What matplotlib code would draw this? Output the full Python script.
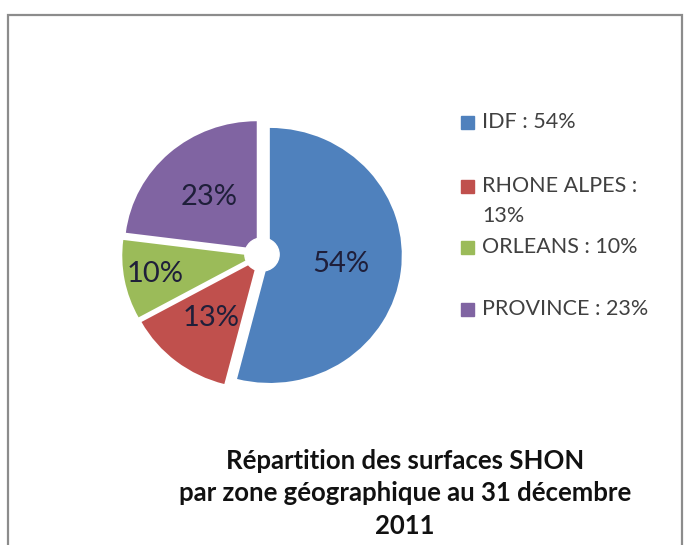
import matplotlib.pyplot as plt
import numpy as np
from matplotlib.patches import Rectangle, Circle

plt.rcParams["font.family"] = ["Lato", "DejaVu Sans"]

zones = ["IDF", "RHONE ALPES", "ORLEANS", "PROVINCE"]
shares = [54, 13, 10, 23]
colors = ["#4F81BD", "#C0504D", "#9BBB59", "#8064A2"]
legend_labels = ["IDF : 54%", "RHONE ALPES :\n13%", "ORLEANS : 10%", "PROVINCE : 23%"]
title = "Répartition des surfaces SHON\npar zone géographique au 31 décembre\n2011"

W, H = 687, 545
fig = plt.figure(figsize=(W / 100, H / 100), dpi=100)

# pie axes, slightly squashed like the original picture
ax = fig.add_axes([0.1317, 0.2289, 0.4993, 0.6083])
explode = [0.06] * len(shares)
wedges, texts, autotexts = ax.pie(
    shares, colors=colors, startangle=90, counterclock=False,
    explode=explode, autopct="%d%%", pctdistance=0.55,
    wedgeprops=dict(linewidth=0), textprops=dict(fontsize=21, color="#1f1f3a"),
)
# Excel puts the labels at slightly different distances
label_dist = [0.6, 0.635, 0.827, 0.605]
for w, t, d in zip(wedges, autotexts, label_dist):
    mid = np.deg2rad((w.theta1 + w.theta2) / 2)
    t.set_position((d * np.cos(mid), d * np.sin(mid)))
    t.set_ha("center")
    t.set_va("center")
ax.add_patch(Circle((0, 0), 0.13, color="white", zorder=5))
ax.set_aspect("auto")
ax.set_xlim(-1.3, 1.3)
ax.set_ylim(-1.3, 1.3)
ax.axis("off")

# legend drawn by hand (Excel spacing is uneven)
legend_y = [123, 187, 248, 310]
for lab, c, y in zip(legend_labels, colors, legend_y):
    fig.patches.append(Rectangle((461 / W, 1 - (y + 6) / H), 13 / W, 13 / H,
                                 transform=fig.transFigure, color=c))
    fig.text(482 / W, 1 - (y - 11) / H, lab, fontsize=15.5, color="#404040",
             va="top", ha="left", linespacing=1.65)

fig.text(405 / W, 1 - 449 / H, title, fontsize=18.5, fontweight="bold",
         color="#111111", ha="center", va="top", linespacing=1.42)

# chart border
fig.patches.append(Rectangle((8 / W, -0.05), 674 / W, 1.05 - 15 / H,
                             transform=fig.transFigure, fill=False,
                             edgecolor="#8c8c8c", linewidth=1.6))

fig.savefig("out.png", dpi=100)
